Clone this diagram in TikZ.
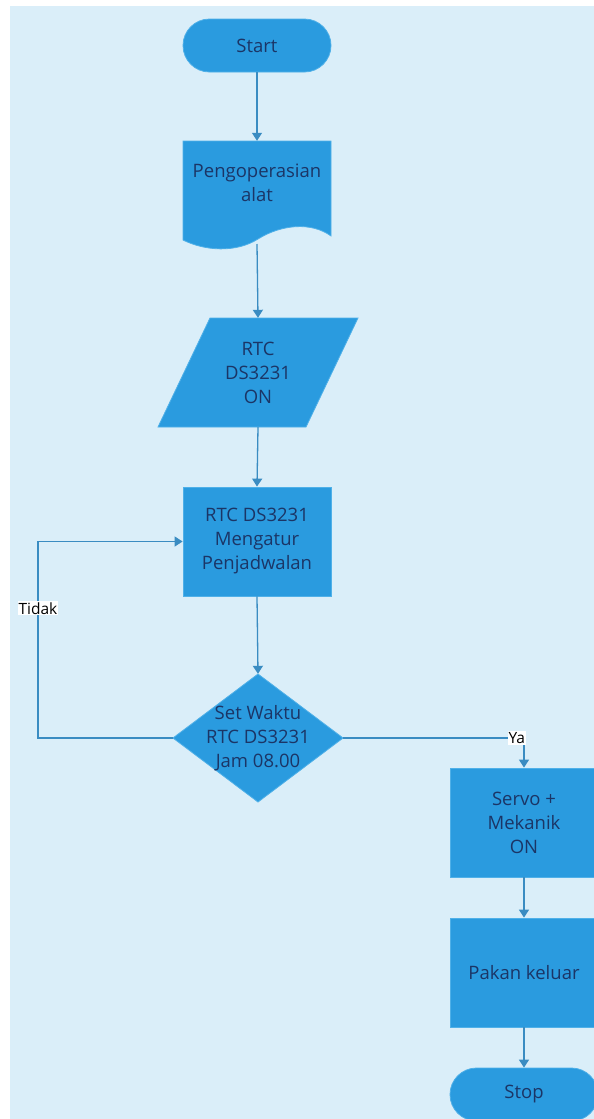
\documentclass[tikz,border=0pt]{standalone}
\usepackage{fontspec}
\setmainfont{Open Sans}
\usetikzlibrary{arrows.meta,shapes.misc}
\definecolor{bg}{HTML}{DAEEF9}
\definecolor{shapeblue}{HTML}{2A9BDF}
\definecolor{edgeblue}{HTML}{4FB0E8}
\definecolor{linkblue}{HTML}{3A8CC2}
\definecolor{txt}{HTML}{1B3566}
\begin{document}
\begin{tikzpicture}[x=1pt,y=-1pt,
  every node/.style={font=\fontsize{18.5}{24}\selectfont, text=txt, align=center},
  blk/.style={fill=shapeblue, draw=edgeblue, line width=0.8pt, minimum width=148pt, inner sep=0pt},
  term/.style={blk, rounded rectangle, minimum height=53pt},
  proc/.style={blk, rectangle, minimum height=109pt},
  ghost/.style={rectangle, inner sep=0pt, minimum width=148pt},
  conn/.style={draw=linkblue, line width=1.3pt, -{Triangle[width=10pt,length=8pt]}},
  lbl/.style={fill=white, text=black, font=\fontsize{15.5}{17}\selectfont, inner sep=1pt}
]
\useasboundingbox (0,0) rectangle (594,1119);
\fill[white] (0,0) rectangle (594,1119);
\fill[bg] (10,6) rectangle (594,1119);

% shapes drawn as outlines
\filldraw[fill=shapeblue, draw=edgeblue, line width=0.8pt]
  (183,141) -- (331,141) -- (331,236)
  .. controls (312,222) and (282,224) .. (258,239)
  .. controls (236,253) and (205,251) .. (183,240) -- cycle;
\filldraw[fill=shapeblue, draw=edgeblue, line width=0.8pt]
  (210,318) -- (358,318) -- (306,427) -- (158,427) -- cycle;
\filldraw[fill=shapeblue, draw=edgeblue, line width=0.8pt]
  (258,674) -- (343,738) -- (258,802) -- (173,738) -- cycle;

% nodes
\node[term] (start) at (257,45.5) {Start};
\node[ghost, minimum height=84pt] (doc) at (257,183) {Pengoperasian\\alat};
\coordinate (docb) at (257,244);
\node[ghost, minimum height=109pt] (para) at (258,372.5) {RTC\\DS3231\\ON};
\node[proc] (sched) at (257,541.5) {RTC DS3231\\Mengatur\\Penjadwalan};
\node[ghost, minimum width=170pt, minimum height=128pt] (dec) at (258,738) {Set Waktu\\RTC DS3231\\Jam 08.00};
\node[proc] (servo) at (524,822.5) {Servo +\\Mekanik\\ON};
\node[proc] (pakan) at (524,972.5) {Pakan keluar};
\node[term] (stop) at (524,1094.5) {Stop};
\coordinate (loopx) at (38,0);

% connectors
\draw[conn] (start.south) -- (doc.north);
\draw[conn] (docb) -- (para.north);
\draw[conn] (para.south) -- (sched.north);
\draw[conn] (sched.south) -- (dec.north);
\draw[conn] (dec.west) -- (dec.west -| loopx) |- node[lbl, pos=0.33] {Tidak} (sched.west);
\draw[conn] (dec.east) -| node[lbl, pos=0.48] {Ya} (servo.north);
\draw[conn] (servo.south) -- (pakan.north);
\draw[conn] (pakan.south) -- (stop.north);
\end{tikzpicture}
\end{document}
